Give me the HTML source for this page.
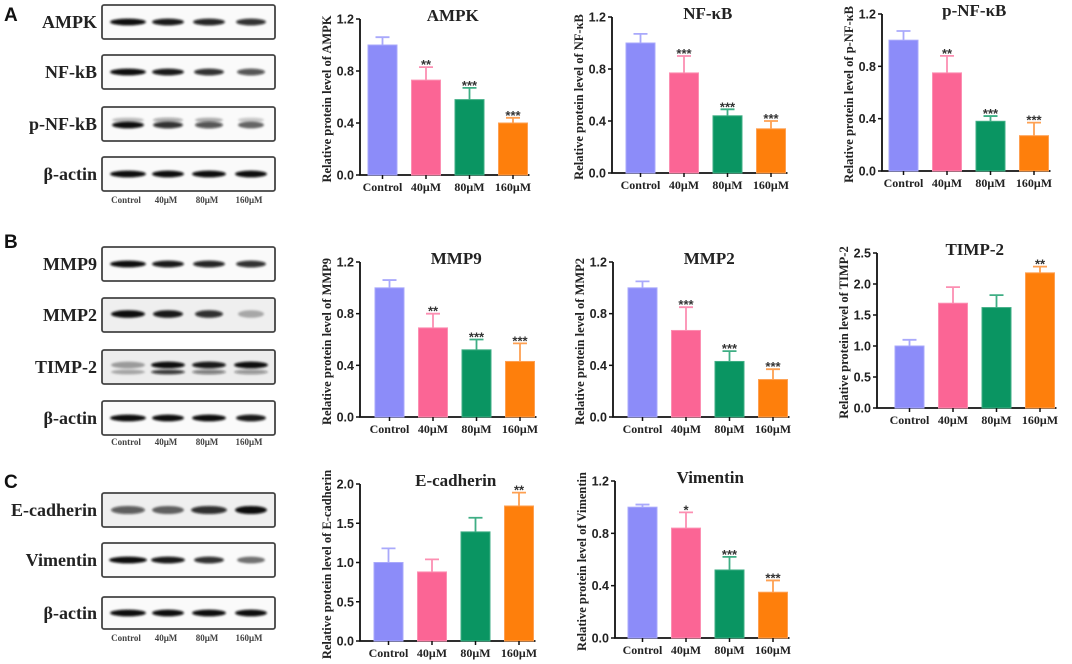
<!DOCTYPE html>
<html><head><meta charset="utf-8">
<style>
html,body{margin:0;padding:0;background:#fff;width:1072px;height:664px;overflow:hidden}
svg{display:block}
.ser{font-family:"Liberation Serif",serif;font-weight:bold}
.san{font-family:"Liberation Sans",sans-serif;font-weight:bold}
</style></head>
<body>
<svg id="fig" width="1072" height="664" viewBox="0 0 1072 664">
<defs>
<filter id="blur1" x="-20%" y="-100%" width="140%" height="300%"><feGaussianBlur stdDeviation="1.1"/></filter>
</defs>
<g id="blots"></g>
<g id="charts"></g>
</svg>
<script>
const categories = ["Control","40μM","80μM","160μM"];
const colors = ["#8c8cf9","#fb6595","#0a9562","#fe7f0c"];
const errColors = ["#a9a9fb","#fc8fb2","#3fae84","#fea052"];

const ampkVals = [1.0,0.73,0.58,0.40];
const ampkErr = [1.06,0.83,0.67,0.44];
const ampkSig = ["","**","***","***"];
const nfkbVals = [1.0,0.77,0.44,0.34];
const nfkbErr = [1.07,0.90,0.49,0.40];
const nfkbSig = ["","***","***","***"];
const pnfkbVals = [1.0,0.75,0.38,0.27];
const pnfkbErr = [1.07,0.88,0.42,0.37];
const pnfkbSig = ["","**","***","***"];
const mmp9Vals = [1.0,0.69,0.52,0.43];
const mmp9Err = [1.06,0.80,0.60,0.57];
const mmp9Sig = ["","**","***","***"];
const mmp2Vals = [1.0,0.67,0.43,0.29];
const mmp2Err = [1.05,0.85,0.51,0.37];
const mmp2Sig = ["","***","***","***"];
const timpVals = [1.0,1.69,1.62,2.18];
const timpErr = [1.10,1.95,1.82,2.28];
const timpSig = ["","","","**"];
const ecadVals = [1.0,0.88,1.39,1.72];
const ecadErr = [1.18,1.04,1.57,1.89];
const ecadSig = ["","","","**"];
const vimVals = [1.0,0.84,0.52,0.35];
const vimErr = [1.02,0.96,0.62,0.44];
const vimSig = ["","*","***","***"];
const ticks12 = ["0.0","0.4","0.8","1.2"];
const ticks25 = ["0.0","0.5","1.0","1.5","2.0","2.5"];
const ticks20 = ["0.0","0.5","1.0","1.5","2.0"];

const NS="http://www.w3.org/2000/svg";
function mk(tag, attrs, parent, text){
  const e=document.createElementNS(NS,tag);
  for(const k in attrs) e.setAttribute(k,attrs[k]);
  if(text!==undefined) e.textContent=text;
  parent.appendChild(e); return e;
}

const chartsG=document.getElementById('charts');
function chart(name,title,vals,errs,sig,ticks,yMax,ax,y0,yTop,off){
  const g=mk('g',{},chartsG);
  
  
  const ys=v=>y0-(v/yMax)*(y0-yTop);
  const bw=29, step=43.5;
  const xs=i=>ax+off+i*step;
  const right=xs(3)+bw+2;
  const yl=mk('line',{x1:ax,y1:yTop,x2:ax,y2:y0+0.5,stroke:'#111','stroke-width':1.8},g);
  
  
  const xl=mk('line',{x1:ax-0.8,y1:y0,x2:right,y2:y0,stroke:'#111','stroke-width':1.8},g);
  
  
  ticks.forEach(t=>{
    const v=parseFloat(t), y=ys(v);
    mk('line',{x1:ax-4,y1:y,x2:ax,y2:y,stroke:'#111','stroke-width':1.5},g);
    const tl=mk('text',{x:ax-6,y:y+4.5,'text-anchor':'end','font-size':12.5,class:'san',fill:'#222'},g,t);
    
    
  });
  const yt=mk('text',{transform:`translate(${ax-29},${(y0+yTop)/2+2}) rotate(-90)`,'text-anchor':'middle','font-size':12.5,class:'ser',fill:'#222'},g,'Relative protein level of '+title);
  
  
  const tt=mk('text',{x:(ax+right)/2+8,y:yTop+2,'text-anchor':'middle','font-size':17,class:'ser',fill:'#222'},g,title);
  
  
  vals.forEach((v,i)=>{
    const x=xs(i), cx=x+bw/2;
    const eb=mk('path',{d:`M${cx} ${ys(v)} V${ys(errs[i])} M${cx-7} ${ys(errs[i])} H${cx+7}`,stroke:errColors[i],'stroke-width':1.8,fill:'none'},g);
    
    
    const b=mk('rect',{x:x,y:ys(v),width:bw,height:y0-ys(v),fill:colors[i],stroke:errColors[i],'stroke-width':1},g);
    
    
    mk('line',{x1:cx,y1:y0,x2:cx,y2:y0+4,stroke:'#111','stroke-width':1.5},g);
    const xlab=mk('text',{x:cx,y:y0+16,'text-anchor':'middle','font-size':12,class:'ser',fill:'#222'},g,categories[i]);
    
    
    if(sig[i]){
      const s=mk('text',{x:cx,y:ys(errs[i])+2,'text-anchor':'middle','font-size':13,class:'san',fill:'#333'},g,sig[i]);
      
      
    }
  });
}
chart('ampk','AMPK',ampkVals,ampkErr,ampkSig,ticks12,1.2,360,175,19,8);
chart('nfkb','NF-κB',nfkbVals,nfkbErr,nfkbSig,ticks12,1.2,612,173,17,14);
chart('pnfkb','p-NF-κB',pnfkbVals,pnfkbErr,pnfkbSig,ticks12,1.2,882,171,14,7);
chart('mmp9','MMP9',mmp9Vals,mmp9Err,mmp9Sig,ticks12,1.2,360,417,262,15);
chart('mmp2','MMP2',mmp2Vals,mmp2Err,mmp2Sig,ticks12,1.2,613,417,262,15);
chart('timp2','TIMP-2',timpVals,timpErr,timpSig,ticks25,2.5,877,408,253,18);
chart('ecad','E-cadherin',ecadVals,ecadErr,ecadSig,ticks20,2.0,360,641,484,14);
chart('vim','Vimentin',vimVals,vimErr,vimSig,ticks12,1.2,615,638,481,13);

const blotsG=document.getElementById('blots');
const lanes=[128,168,209,251];
function blot(name,y1,y2,intens,widths,extra){
  const g=mk('g',{},blotsG);
  
  
  mk('rect',{x:102,y:y1,width:173,height:y2-y1,rx:2,fill:extra&&extra.bg?extra.bg:'#fafafa',stroke:'#444','stroke-width':1.8},g);
  const cy=(y1+y2)/2+(extra&&extra.dy?extra.dy:0);
  intens.forEach((a,i)=>{
    mk('ellipse',{cx:lanes[i],cy:cy,rx:widths[i],ry:extra&&extra.ry?extra.ry:3.4,fill:'#0a0a0a','fill-opacity':a,filter:'url(#blur1)'},g);
    if(extra&&extra.second) mk('ellipse',{cx:lanes[i],cy:cy+extra.second.dy,rx:widths[i],ry:2.4,fill:'#111','fill-opacity':extra.second.a[i],filter:'url(#blur1)'},g);
  });
  const lab=mk('text',{x:97,y:(y1+y2)/2+6,'text-anchor':'end','font-size':18,class:'ser',fill:'#222'},g,name);
  
  
}
function laneLabels(y){
  categories.forEach((c,i)=>{
    const t=mk('text',{x:lanes[i]-2,y:y,'text-anchor':'middle','font-size':9,class:'ser',fill:'#444'},blotsG,c);
    
    
  });
}
function panel(letter,y){
  const t=mk('text',{x:4,y:y,'font-size':19,class:'san',fill:'#111'},blotsG,letter);
  
  
}
panel('A',21); panel('B',248); panel('C',488);
blot('AMPK',5,39,[1,0.95,0.9,0.85],[18,16,16,15]);
blot('NF-kB',55,89,[1,0.95,0.85,0.7],[18,16,15,14]);
blot('p-NF-kB',107,141,[1,0.85,0.7,0.6],[16,15,14,13],{second:{dy:-5,a:[0.25,0.35,0.3,0.2]},dy:1});
blot('β-actin',157,191,[1,1,1,1],[18,16,17,16]);
laneLabels(203);
blot('MMP9',247,281,[1,0.95,0.9,0.85],[18,16,16,15]);
blot('MMP2',298,332,[1,0.95,0.85,0.3],[17,15,14,13],{ry:3.8,dy:-1,bg:'#efefef'});
blot('TIMP-2',350,384,[0.35,1,0.95,1],[17,17,17,17],{second:{dy:7,a:[0.3,0.8,0.5,0.4]},dy:-2,bg:'#ededed'});
blot('β-actin',401,435,[1,1,1,0.95],[18,16,17,15]);
laneLabels(445);
blot('E-cadherin',493,527,[0.65,0.6,0.85,1],[17,16,18,16],{ry:4,bg:'#efefef'});
blot('Vimentin',543,577,[1,0.95,0.85,0.55],[19,17,15,14]);
blot('β-actin',597,629,[1,1,1,1],[18,16,17,16]);
laneLabels(641);
</script>
</body></html>
